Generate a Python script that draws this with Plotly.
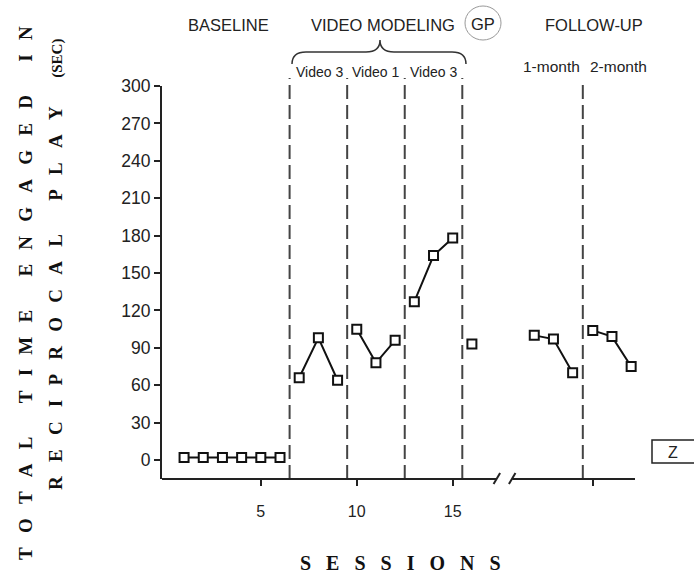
import plotly.graph_objects as go

# ---------------- data ----------------
baseline_x = [1, 2, 3, 4, 5, 6]
baseline_y = [2, 2, 2, 2, 2, 2]
video3a_x = [7, 8, 9]
video3a_y = [66, 98, 64]
video1_x = [10, 11, 12]
video1_y = [105, 78, 96]
video3b_x = [13, 14, 15]
video3b_y = [127, 164, 178]
gp_x = [16]
gp_y = [93]
month1_x = [19.25, 20.25, 21.25]
month1_y = [100, 97, 70]
month2_x = [22.3, 23.3, 24.3]
month2_y = [104, 99, 75]

phase_lines = [6.5, 9.5, 12.5, 15.5]
followup_line = 21.78
y_ticks = [0, 30, 60, 90, 120, 150, 180, 210, 240, 270, 300]
x_tickvals = [5, 10, 15, 22.3]
x_ticktext = ["5", "10", "15", ""]

# ---------------- geometry helpers ----------------
W, H = 694, 576
L, R, T, B = 162, 635, 86, 479  # plot area pixels
XMIN, XMAX = -0.15, 24.5
YMIN, YMAX = -15.2, 300


def px(xp):
    return (xp - L) / (R - L)


def py(yp):
    return (B - yp) / (B - T)


NB = "\u00a0"


def spaced(words, g, wg):
    return (NB * wg).join((NB * g).join(list(w)) for w in words)


fig = go.Figure()

segs = [(baseline_x, baseline_y), (video3a_x, video3a_y), (video1_x, video1_y),
        (video3b_x, video3b_y), (gp_x, gp_y), (month1_x, month1_y), (month2_x, month2_y)]
for sx, sy in segs:
    fig.add_trace(go.Scatter(
        x=sx, y=sy, mode="lines+markers",
        line=dict(color="#111", width=2),
        marker=dict(symbol="square", size=9, color="white",
                    line=dict(color="#111", width=2)),
        cliponaxis=False, showlegend=False, hoverinfo="skip"))

shapes = []
dash = "14px,6px"
for xv in phase_lines:
    shapes.append(dict(type="line", xref="x", yref="paper", x0=xv, x1=xv,
                       y0=0, y1=py(78), line=dict(color="#444", width=2, dash=dash)))
shapes.append(dict(type="line", xref="x", yref="paper", x0=followup_line, x1=followup_line,
                   y0=0, y1=py(84), line=dict(color="#444", width=2, dash=dash)))

# x axis line with break
brk0, brk1 = 17.3, 18.1
shapes.append(dict(type="line", xref="x", yref="paper", x0=XMIN, x1=brk0, y0=0, y1=0,
                   line=dict(color="#222", width=2)))
shapes.append(dict(type="line", xref="x", yref="paper", x0=brk1, x1=XMAX, y0=0, y1=0,
                   line=dict(color="#222", width=2)))
for bx in (brk0, brk1):
    shapes.append(dict(type="line", xref="x", yref="paper",
                       x0=bx - 0.17, x1=bx + 0.17, y0=py(484), y1=py(473),
                       line=dict(color="#222", width=2)))

# brace
pts = "M {a},{b} Q {c},{d} {e},{f} L {g},{h} Q {i},{j} {k},{l} Q {m},{n} {o},{p} L {q},{r} Q {s},{t} {u},{v}".format(
    a=px(292), b=py(64), c=px(292), d=py(52), e=px(306), f=py(52),
    g=px(366), h=py(52), i=px(380), j=py(52), k=px(380), l=py(40),
    m=px(380), n=py(52), o=px(394), p=py(52),
    q=px(452), r=py(52), s=px(466), t=py(52), u=px(466), v=py(64))
shapes.append(dict(type="path", xref="paper", yref="paper", path=pts,
                   line=dict(color="#333", width=1.5)))

# GP circle
shapes.append(dict(type="circle", xref="paper", yref="paper",
                   x0=px(465), x1=px(501), y0=py(40), y1=py(6),
                   line=dict(color="#999", width=1)))

# Z box
shapes.append(dict(type="rect", xref="paper", yref="paper",
                   x0=px(652), x1=px(702), y0=py(463), y1=py(440),
                   line=dict(color="#222", width=1.5)))

sans = "Arial, Liberation Sans, sans-serif"
serif = "Times New Roman, Liberation Serif, serif"
ann = []


def txt(t, xp, yp, size, font=sans, color="#222", angle=0):
    ann.append(dict(text=t, x=px(xp), y=py(yp), xref="paper", yref="paper",
                    xanchor="center", yanchor="middle", showarrow=False,
                    textangle=angle, font=dict(family=font, size=size, color=color)))


txt("BASELINE", 228, 25, 16.5)
txt("VIDEO MODELING", 383, 25, 16.5)
txt("GP", 483, 24, 16.5)
txt("FOLLOW-UP", 594, 25, 16.5)
txt("Video 3", 319, 72, 14)
txt("Video 1", 375, 72, 14)
txt("Video 3", 433, 72, 14)
txt("1-month", 551, 67, 15.5)
txt("2-month", 618, 67, 15.5)
txt("Z", 673, 452, 16)

txt("<b>" + spaced(["SESSIONS"], 3, 3) + "</b>", 400, 563, 20, font=serif, color="#111")
line1 = spaced(["TOTAL", "TIME", "ENGAGED", "IN"], 3, 7)
txt("<b>" + line1 + "</b>", 25, 293, 19, font=serif, color="#111", angle=-90)
line2 = spaced(["RECIPROCAL", "PLAY"], 3, 7) + NB * 6 + "<span style='font-size:15px'>(SEC)</span>"
txt("<b>" + line2 + "</b>", 55, 265, 19, font=serif, color="#111", angle=-90)

fig.update_layout(
    template="none",
    width=W, height=H, autosize=False,
    margin=dict(l=L, r=W - R, t=T, b=H - B, pad=0),
    paper_bgcolor="white", plot_bgcolor="white",
    shapes=shapes, annotations=ann,
    xaxis=dict(range=[XMIN, XMAX], showgrid=False, zeroline=False, showline=False,
               automargin=False,
               tickmode="array", tickvals=x_tickvals, ticktext=x_ticktext,
               ticks="outside", ticklen=6, tickwidth=2, tickcolor="#222",
               ticklabelstandoff=12,
               tickfont=dict(family=sans, size=16, color="#222")),
    yaxis=dict(range=[YMIN, YMAX], showgrid=False, zeroline=False, showline=True,
               automargin=False,
               linecolor="#222", linewidth=2,
               tickmode="array", tickvals=y_ticks,
               ticks="outside", ticklen=6, tickwidth=2, tickcolor="#222",
               tickfont=dict(family=sans, size=17.5, color="#222")),
)

fig.write_html("out.html")
